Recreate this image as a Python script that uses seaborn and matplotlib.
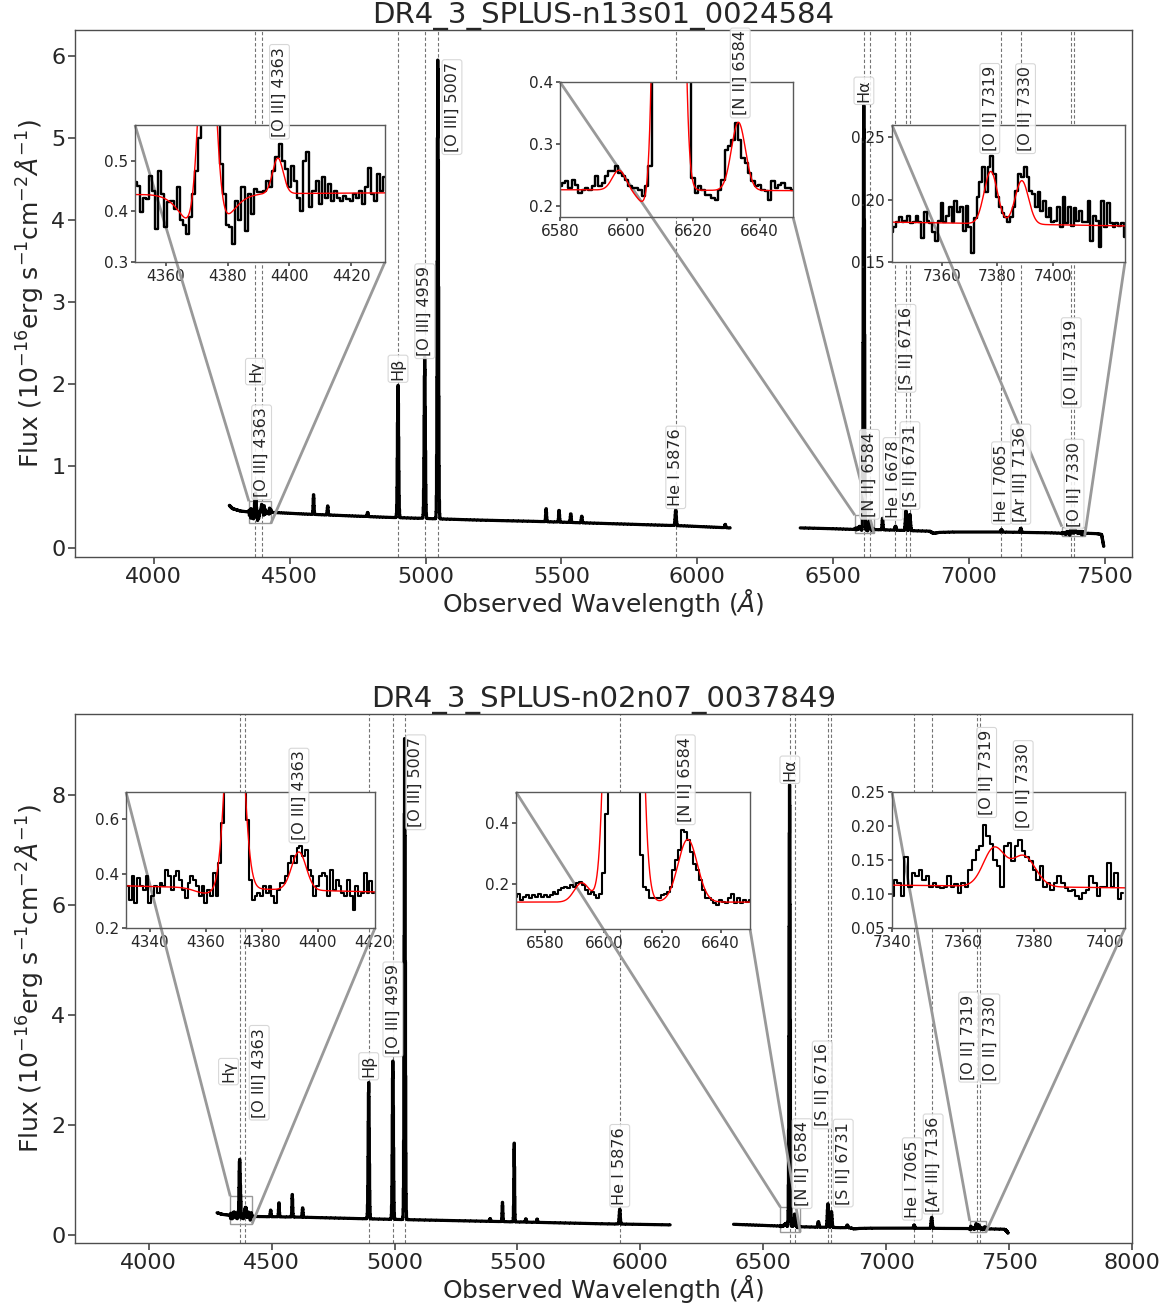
import numpy as np
import pandas as pd
import matplotlib
matplotlib.use("Agg")
import matplotlib.pyplot as plt
import seaborn as sns
from mpl_toolkits.axes_grid1.inset_locator import mark_inset

# ---------------------------------------------------------------- line list
line_names = ["Hγ", "[O III] 4363", "Hβ", "[O III] 4959", "[O III] 5007", "He I 5876",
              "Hα", "[N II] 6584", "He I 6678", "[S II] 6716", "[S II] 6731",
              "He I 7065", "[Ar III] 7136", "[O II] 7319", "[O II] 7330"]
line_rest = [4340.47, 4363.21, 4861.33, 4958.91, 5006.84, 5875.62,
             6562.80, 6583.45, 6678.15, 6716.44, 6730.82,
             7065.19, 7135.79, 7319.90, 7330.20]

# spectrograph coverage (two arms)
seg_start = [4278, 6379]
seg_end = [6121, 7496]

# ---------------------------------------------------------------- object 1
obj1_name = "DR4_3_SPLUS-n13s01_0024584"
obj1_z = 0.0077
obj1_lines = line_names
obj1_cont_wl = [4278, 4290, 4320, 4350, 4431, 4550, 4700, 4850, 5000, 5200, 5400,
                5600, 5800, 5950, 6121, 6379, 6500, 6580, 6650, 6800, 6855, 6870,
                6890, 6950, 7100, 7300, 7342, 7426, 7470, 7488, 7496]
obj1_cont_flux = [0.52, 0.48, 0.45, 0.44, 0.435, 0.415, 0.395, 0.375, 0.36, 0.34, 0.325,
                  0.305, 0.285, 0.27, 0.245, 0.245, 0.235, 0.226, 0.225, 0.21, 0.205, 0.178,
                  0.19, 0.195, 0.195, 0.185, 0.18, 0.18, 0.175, 0.165, 0.02]
obj1_em_center = [4588, 4640, 4787, 4898.8, 4997.1, 5045.4, 5443.8, 5491.5, 5534.5,
                  5574.9, 5920.8, 6103, 6682, 6729.6, 6768.2, 6782.6, 7119.6, 7190.7]
obj1_em_amp = [0.24, 0.11, 0.05, 1.62, 1.97, 5.69, 0.16, 0.15, 0.11,
               0.08, 0.19, 0.04, 0.14, 0.05, 0.24, 0.20, 0.03, 0.05]
obj1_em_sigma = [1.5, 1.5, 1.5, 2.2, 2.2, 2.2, 1.5, 1.5, 1.5,
                 1.5, 2.0, 1.5, 1.5, 2.0, 2.2, 2.2, 2.0, 2.0]

# zoomed windows: observed flux on a 1 Å grid
obj1_win1_start = 4350
obj1_win1_flux = [0.457, 0.45, 0.398, 0.427, 0.424, 0.470, 0.44, 0.365, 0.48, 0.434,
                  0.369, 0.418, 0.42, 0.405, 0.447, 0.382, 0.372, 0.356, 0.388, 0.434,
                  0.48, 0.545, 0.62, 0.66, 0.67, 0.65, 0.60, 0.58, 0.493, 0.434,
                  0.372, 0.369, 0.336, 0.421, 0.382, 0.447, 0.362, 0.434, 0.395, 0.444,
                  0.437, 0.437, 0.44, 0.46, 0.447, 0.48, 0.506, 0.532, 0.5, 0.483,
                  0.447, 0.49, 0.46, 0.427, 0.401, 0.5, 0.516, 0.408, 0.44, 0.46,
                  0.414, 0.467, 0.427, 0.454, 0.421, 0.44, 0.427, 0.421, 0.431, 0.424,
                  0.421, 0.434, 0.427, 0.44, 0.414, 0.447, 0.486, 0.434, 0.421, 0.473,
                  0.44, 0.467]
obj1_win2_start = 6580
obj1_win2_flux = [0.232, 0.237, 0.24, 0.229, 0.242, 0.234, 0.221, 0.226, 0.229, 0.226,
                  0.232, 0.248, 0.232, 0.237, 0.248, 0.256, 0.256, 0.264, 0.253, 0.248,
                  0.242, 0.232, 0.229, 0.229, 0.226, 0.216, 0.232, 0.264,
                  0.55, 1.25, 2.5, 3.9, 5.0, 5.4, 5.1, 4.0, 2.6, 1.4, 0.7, 0.42, 0.245,
                  0.221, 0.232, 0.226, 0.218, 0.218, 0.213, 0.21, 0.226, 0.242,
                  0.291, 0.296, 0.307, 0.334, 0.307, 0.277, 0.269, 0.253, 0.24, 0.232,
                  0.234, 0.226, 0.224, 0.21, 0.24, 0.229, 0.234, 0.237, 0.229, 0.229, 0.226]
obj1_win3_start = 7342
obj1_win3_flux = [0.174, 0.178, 0.182, 0.186, 0.182, 0.183, 0.187, 0.181, 0.182, 0.187,
                  0.182, 0.169, 0.19, 0.183, 0.181, 0.174, 0.167, 0.183, 0.197,
                  0.182, 0.187, 0.194, 0.182, 0.199, 0.19, 0.194, 0.175, 0.195, 0.178,
                  0.157, 0.185, 0.202, 0.214, 0.226, 0.206, 0.226, 0.235, 0.221, 0.202,
                  0.194, 0.189, 0.186, 0.182, 0.186, 0.194, 0.207, 0.221, 0.218, 0.226,
                  0.218, 0.207, 0.205, 0.194, 0.206, 0.191, 0.199, 0.186, 0.193, 0.182,
                  0.183, 0.194, 0.178, 0.202, 0.181, 0.194, 0.179, 0.193, 0.183, 0.191,
                  0.182, 0.182, 0.199, 0.167, 0.187, 0.183, 0.162, 0.199, 0.178, 0.197,
                  0.181, 0.178, 0.181, 0.179, 0.181, 0.17]

# gaussian fits in the windows: continuum level, slope, components
obj1_fit1_cont = [0.433, 0.00004]
obj1_fit1_center = [4373.0, 4373.4, 4396.3]
obj1_fit1_amp = [-0.10, 0.55, 0.07]
obj1_fit1_sigma = [6.0, 2.4, 1.7]
obj1_fit2_cont = [0.226, -0.00002]
obj1_fit2_center = [6597.7, 6606.0, 6612.7, 6633.6]
obj1_fit2_amp = [0.032, -0.025, 5.2, 0.110]
obj1_fit2_sigma = [2.0, 2.5, 2.1, 2.1]
obj1_fit3_cont = [0.182, -0.000036]
obj1_fit3_center = [7377.6, 7388.8]
obj1_fit3_amp = [0.042, 0.035]
obj1_fit3_sigma = [2.4, 2.4]

# ---------------------------------------------------------------- object 2
obj2_name = "DR4_3_SPLUS-n02n07_0037849"
obj2_z = 0.0069
obj2_lines = [n for n in line_names if n != "He I 6678"]
obj2_cont_wl = [4278, 4300, 4331, 4420, 4615, 4888, 5100, 5430, 5837, 6121,
                6379, 6500, 6570, 6650, 6855, 6870, 6890, 6950, 7340, 7405, 7480, 7488, 7496]
obj2_cont_flux = [0.40, 0.37, 0.355, 0.333, 0.32, 0.29, 0.27, 0.24, 0.20, 0.18,
                  0.19, 0.17, 0.158, 0.145, 0.125, 0.105, 0.115, 0.12, 0.113, 0.108, 0.10, 0.08, 0.03]
obj2_em_center = [4496, 4529.7, 4584, 4626, 4894.9, 4993.1, 5041.4, 5389, 5439, 5486.7,
                  5534, 5580, 5916.1, 6724.2, 6762.8, 6777.3, 6842, 7113.9, 7185.0]
obj2_em_amp = [0.12, 0.26, 0.41, 0.17, 2.48, 2.88, 8.88, 0.05, 0.35, 1.46,
               0.06, 0.06, 0.27, 0.10, 0.43, 0.29, 0.05, 0.06, 0.20]
obj2_em_sigma = [1.5, 1.5, 1.5, 1.5, 2.3, 2.3, 2.3, 1.5, 1.5, 1.5,
                 1.5, 1.5, 2.0, 2.0, 2.3, 2.3, 2.0, 2.0, 2.2]

obj2_win1_start = 4332
obj2_win1_flux = [0.353, 0.304, 0.39, 0.292, 0.383, 0.353, 0.341, 0.39, 0.292,
                  0.316, 0.353, 0.328, 0.365, 0.353, 0.414, 0.39, 0.341, 0.39, 0.408,
                  0.377, 0.341, 0.31, 0.365, 0.39, 0.377, 0.353, 0.316, 0.353, 0.292,
                  0.341, 0.316, 0.402, 0.316, 0.439, 0.585, 0.85, 1.15, 1.33, 1.37,
                  1.3, 1.1, 0.9, 0.72, 0.597, 0.377, 0.304, 0.316, 0.328, 0.316,
                  0.353, 0.328, 0.353, 0.316, 0.292, 0.341, 0.365, 0.365, 0.39, 0.439,
                  0.463, 0.439, 0.494, 0.5, 0.463, 0.488, 0.414, 0.39, 0.316, 0.353,
                  0.39, 0.402, 0.39, 0.316, 0.414, 0.341, 0.377, 0.353, 0.328, 0.316,
                  0.377, 0.316, 0.267, 0.353, 0.316, 0.328, 0.402, 0.328, 0.371, 0.328]
obj2_win2_start = 6570
obj2_win2_flux = [0.158, 0.168, 0.147, 0.158, 0.163, 0.152, 0.163, 0.158, 0.168, 0.158,
                  0.163, 0.158, 0.163, 0.174, 0.168, 0.179, 0.185, 0.19, 0.185, 0.196,
                  0.19, 0.201, 0.207, 0.196, 0.179, 0.168, 0.174, 0.163, 0.152, 0.168,
                  0.234, 0.429, 0.9, 1.9, 3.6, 5.6, 7.3, 8.18, 7.8, 6.0, 3.9,
                  2.0, 0.75, 0.293, 0.19, 0.179, 0.152, 0.152, 0.152, 0.152, 0.163,
                  0.168, 0.174, 0.19, 0.245, 0.277, 0.31, 0.375, 0.37, 0.342, 0.304,
                  0.266, 0.245, 0.212, 0.179, 0.152, 0.152, 0.147, 0.136, 0.13, 0.147,
                  0.141, 0.136, 0.152, 0.168, 0.136, 0.152, 0.136, 0.147, 0.141, 0.147]
obj2_win3_start = 7340
obj2_win3_flux = [0.097, 0.121, 0.116, 0.097, 0.155, 0.111, 0.131, 0.126, 0.136, 0.121,
                  0.126, 0.111, 0.116, 0.111, 0.109, 0.111, 0.126, 0.111, 0.114, 0.101,
                  0.116, 0.111, 0.136, 0.15, 0.165, 0.17, 0.202, 0.185, 0.173, 0.15,
                  0.141, 0.111, 0.17, 0.175, 0.148, 0.17, 0.18, 0.163, 0.155, 0.148,
                  0.136, 0.121, 0.141, 0.111, 0.116, 0.106, 0.116, 0.126, 0.116, 0.109,
                  0.104, 0.106, 0.097, 0.092, 0.101, 0.106, 0.126, 0.116, 0.097, 0.111,
                  0.111, 0.146, 0.111, 0.131, 0.092, 0.101]

obj2_fit1_cont = [0.355, -0.00025]
obj2_fit1_center = [4360.0, 4370.3, 4393.3]
obj2_fit1_amp = [-0.02, 1.0, 0.14]
obj2_fit1_sigma = [4.0, 2.7, 2.6]
obj2_fit2_cont = [0.14, 0.0]
obj2_fit2_center = [6592.5, 6606.8, 6628.7]
obj2_fit2_amp = [0.063, 8.0, 0.205]
obj2_fit2_sigma = [2.6, 3.0, 3.3]
obj2_fit3_cont = [0.113, -0.00006]
obj2_fit3_center = [7368.7, 7377.0]
obj2_fit3_amp = [0.056, 0.045]
obj2_fit3_sigma = [3.0, 3.3]

# ---------------------------------------------------------------- layout
fig_w, fig_h = 1171, 1308
panel_px = [(75, 30, 1132, 557), (75, 714, 1132, 1243)]       # left, top, right, bottom
panel_xlim = [(3710, 7600), (3700, 8000)]
panel_ylim = [(-0.11, 6.32), (-0.15, 9.47)]
panel_yticks = [np.arange(0, 7, 1), np.arange(0, 9, 2)]
panel_xticks = [np.arange(4000, 7501, 500), np.arange(4000, 8001, 500)]

# label anchor (bottom of box, flux units) and horizontal shift (Å) for each line
obj1_label_y = {"Hγ": 2.02, "[O III] 4363": 0.62, "Hβ": 2.05, "[O III] 4959": 2.34,
                "[O III] 5007": 4.83, "He I 5876": 0.51, "Hα": 5.44, "[N II] 6584": 0.38,
                "He I 6678": 0.37, "[S II] 6716": 1.93, "[S II] 6731": 0.50,
                "He I 7065": 0.32, "[Ar III] 7136": 0.32, "[O II] 7319": 1.74,
                "[O II] 7330": 0.26}
obj1_label_dx = {"[O III] 5007": 52, "He I 6678": -9}
obj2_label_y = {"Hγ": 2.77, "[O III] 4363": 2.13, "Hβ": 2.86, "[O III] 4959": 3.28,
                "[O III] 5007": 7.41, "He I 5876": 0.55, "Hα": 8.25, "[N II] 6584": 0.52,
                "[S II] 6716": 1.97, "[S II] 6731": 0.55, "He I 7065": 0.31,
                "[Ar III] 7136": 0.42, "[O II] 7319": 2.82, "[O II] 7330": 2.79}
obj2_label_dx = {"Hγ": -46, "[O III] 4363": 56, "[O III] 5007": 45, "[N II] 6584": 29,
                 "[S II] 6716": -23, "[S II] 6731": 48, "He I 7065": -8,
                 "[Ar III] 7136": 6, "[O II] 7319": -35, "[O II] 7330": 41}

# inset boxes in figure pixels (left, top, right, bottom) and view limits
obj1_insets = [
    dict(px=(135, 125, 385, 262), xlim=(4350, 4431), ylim=(0.30, 0.57),
         xticks=[4360, 4380, 4400, 4420], yticks=[0.3, 0.4, 0.5],
         labels={"[O III] 4363": (0.547, 0.0)}),
    dict(px=(560, 82, 793, 217), xlim=(6580, 6650), ylim=(0.182, 0.40),
         xticks=[6580, 6600, 6620, 6640], yticks=[0.2, 0.3, 0.4],
         labels={"[N II] 6584": (0.346, 0.0)}),
    dict(px=(892, 125, 1125, 262), xlim=(7342, 7426), ylim=(0.15, 0.26),
         xticks=[7360, 7380, 7400], yticks=[0.15, 0.20, 0.25],
         labels={"[O II] 7319": (0.239, 1.0), "[O II] 7330": (0.239, 3.5)}),
]
obj2_insets = [
    dict(px=(126, 792, 375, 928), xlim=(4331.5, 4420.5), ylim=(0.2, 0.7),
         xticks=[4340, 4360, 4380, 4400, 4420], yticks=[0.2, 0.4, 0.6],
         labels={"[O III] 4363": (0.522, 0.0)}),
    dict(px=(516, 792, 750, 929), xlim=(6570, 6650), ylim=(0.052, 0.5),
         xticks=[6580, 6600, 6620, 6640], yticks=[0.2, 0.4],
         labels={"[N II] 6584": (0.401, -1.0)}),
    dict(px=(892, 792, 1125, 928), xlim=(7340, 7405.5), ylim=(0.05, 0.25),
         xticks=[7340, 7360, 7380, 7400], yticks=[0.05, 0.10, 0.15, 0.20, 0.25],
         labels={"[O II] 7319": (0.216, -3.8), "[O II] 7330": (0.197, -3.9)}),
]


def profile(wl, centers, amps, sigmas):
    wl = np.asarray(wl, dtype=float)[:, None]
    c = np.asarray(centers, dtype=float)[None, :]
    a = np.asarray(amps, dtype=float)[None, :]
    s = np.asarray(sigmas, dtype=float)[None, :]
    return (a * np.exp(-0.5 * ((wl - c) / s) ** 2)).sum(axis=1)


def build_spectrum(cont_wl, cont_flux, centers, amps, sigmas, windows):
    frames = []
    for lo, hi in zip(seg_start, seg_end):
        wl = np.arange(lo, hi + 1, dtype=float)
        flux = np.interp(wl, cont_wl, cont_flux) + profile(wl, centers, amps, sigmas)
        for start, values in windows:
            values = np.asarray(values, dtype=float)
            sel = (wl >= start) & (wl < start + len(values))
            flux[sel] = values[(wl[sel] - start).astype(int)]
        frames.append(pd.DataFrame({"wl": wl, "flux": flux}))
    return frames


sns.set_theme(style="ticks", rc={
    "axes.edgecolor": "0.3", "xtick.color": "0.3", "ytick.color": "0.3",
    "text.color": "0.15", "axes.labelcolor": "0.15",
    "xtick.labelcolor": "0.15", "ytick.labelcolor": "0.15",
    "axes.linewidth": 1.0, "xtick.major.size": 5, "ytick.major.size": 5,
})
plt.rcParams["font.family"] = ["DejaVu Sans"]

fig = plt.figure(figsize=(fig_w / 100, fig_h / 100), dpi=100)

label_box = dict(boxstyle="round,pad=0.15", fc="white", ec="0.82", lw=0.8, alpha=0.85)

objects = [
    dict(name=obj1_name, z=obj1_z, lines=obj1_lines,
         spec=build_spectrum(obj1_cont_wl, obj1_cont_flux, obj1_em_center, obj1_em_amp,
                             obj1_em_sigma, [(obj1_win1_start, obj1_win1_flux),
                                             (obj1_win2_start, obj1_win2_flux),
                                             (obj1_win3_start, obj1_win3_flux)]),
         windows=[(obj1_win1_start, obj1_win1_flux), (obj1_win2_start, obj1_win2_flux),
                  (obj1_win3_start, obj1_win3_flux)],
         fits=[(obj1_fit1_cont, obj1_fit1_center, obj1_fit1_amp, obj1_fit1_sigma),
               (obj1_fit2_cont, obj1_fit2_center, obj1_fit2_amp, obj1_fit2_sigma),
               (obj1_fit3_cont, obj1_fit3_center, obj1_fit3_amp, obj1_fit3_sigma)],
         label_y=obj1_label_y, label_dx=obj1_label_dx, insets=obj1_insets, inset_lw=1.7),
    dict(name=obj2_name, z=obj2_z, lines=obj2_lines,
         spec=build_spectrum(obj2_cont_wl, obj2_cont_flux, obj2_em_center, obj2_em_amp,
                             obj2_em_sigma, [(obj2_win1_start, obj2_win1_flux),
                                             (obj2_win2_start, obj2_win2_flux),
                                             (obj2_win3_start, obj2_win3_flux)]),
         windows=[(obj2_win1_start, obj2_win1_flux), (obj2_win2_start, obj2_win2_flux),
                  (obj2_win3_start, obj2_win3_flux)],
         fits=[(obj2_fit1_cont, obj2_fit1_center, obj2_fit1_amp, obj2_fit1_sigma),
               (obj2_fit2_cont, obj2_fit2_center, obj2_fit2_amp, obj2_fit2_sigma),
               (obj2_fit3_cont, obj2_fit3_center, obj2_fit3_amp, obj2_fit3_sigma)],
         label_y=obj2_label_y, label_dx=obj2_label_dx, insets=obj2_insets, inset_lw=1.5),
]

for k, obj in enumerate(objects):
    l, t, r, b = panel_px[k]
    ax = fig.add_axes([l / fig_w, 1 - b / fig_h, (r - l) / fig_w, (b - t) / fig_h])

    for seg in obj["spec"]:
        sns.lineplot(data=seg, x="wl", y="flux", ax=ax, color="black", lw=2.3,
                     drawstyle="steps-mid", estimator=None, sort=False, legend=False)

    obs = {n: line_rest[line_names.index(n)] * (1 + obj["z"]) for n in obj["lines"]}
    for n, lam in obs.items():
        ax.axvline(lam, color="0.45", ls=(0, (3, 2)), lw=0.8, zorder=1)
        ax.text(lam + obj["label_dx"].get(n, 0.0), obj["label_y"][n], n, rotation=90,
                ha="center", va="bottom", fontsize=11.5, zorder=8, bbox=label_box)

    ax.set_xlim(*panel_xlim[k])
    ax.set_ylim(*panel_ylim[k])
    ax.set_xticks(panel_xticks[k])
    ax.set_yticks(panel_yticks[k])
    ax.tick_params(labelsize=16, pad=2)
    ax.set_xlabel(r"Observed Wavelength ($\AA$)", fontsize=18, labelpad=0)
    ax.set_ylabel(r"Flux ($10^{-16}$erg s$^{-1}$cm$^{-2}$$\AA^{-1}$)", fontsize=18, labelpad=4)
    ax.set_title(obj["name"], fontsize=21, pad=4)

    for (start, values), fit, ins in zip(obj["windows"], obj["fits"], obj["insets"]):
        il, it, ir, ib = ins["px"]
        bounds = [(il - l) / (r - l), (b - ib) / (b - t), (ir - il) / (r - l), (ib - it) / (b - t)]
        axins = ax.inset_axes(bounds)
        wl = np.arange(start, start + len(values), dtype=float)
        sns.lineplot(x=wl, y=np.asarray(values), ax=axins, color="black", lw=obj["inset_lw"],
                     drawstyle="steps-mid", estimator=None, sort=False, legend=False)
        cont, cen, amp, sig = fit
        fine = np.linspace(ins["xlim"][0], ins["xlim"][1], 900)
        model = cont[0] + cont[1] * (fine - ins["xlim"][0]) + profile(fine, cen, amp, sig)
        sns.lineplot(x=fine, y=model, ax=axins, color="red", lw=1.0,
                     estimator=None, sort=False, legend=False)
        axins.set_xlim(*ins["xlim"])
        axins.set_ylim(*ins["ylim"])
        axins.set_xticks(ins["xticks"])
        axins.set_yticks(ins["yticks"])
        axins.tick_params(labelsize=11, length=3, pad=2)
        axins.set_xlabel("")
        axins.set_ylabel("")
        for sp in axins.spines.values():
            sp.set_color("0.35")
        for n, (ly, ldx) in ins["labels"].items():
            axins.text(obs[n] + ldx, ly, n, rotation=90, ha="center", va="bottom",
                       fontsize=11.5, zorder=10, clip_on=False, bbox=label_box)
        patch, c1, c2 = mark_inset(ax, axins, loc1=2, loc2=4, fc="none", ec="0.6", lw=1.0)
        for c in (c1, c2):
            c.set_linewidth(2.0)
            c.set_edgecolor("0.6")

fig.savefig("out.png", dpi=100)
